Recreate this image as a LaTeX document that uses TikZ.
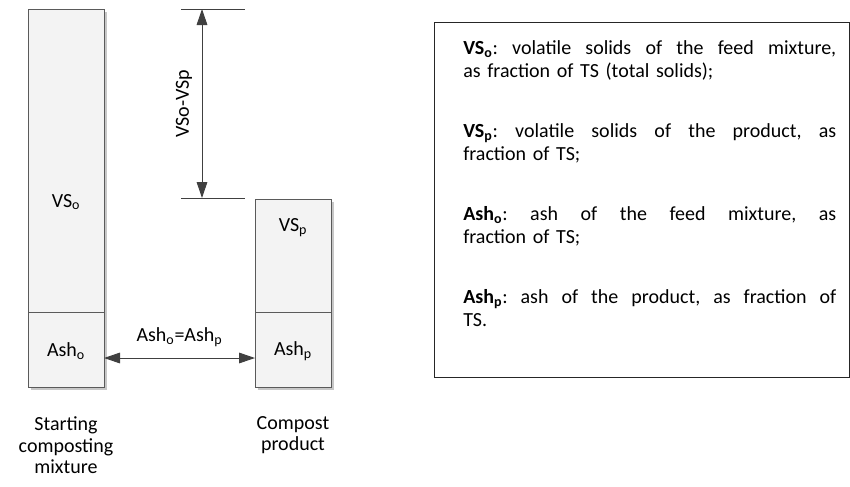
\documentclass[tikz,border=0pt]{standalone}
\usepackage{fontspec}
\setmainfont{Carlito}
\usetikzlibrary{arrows.meta,shadows}
\definecolor{linegray}{HTML}{404040}
\definecolor{edgegray}{HTML}{5A5A5A}
\definecolor{boxgray}{HTML}{F3F3F3}
\setlength{\parindent}{0pt}
\newcommand{\fullline}[1]{\makebox[279.75pt][s]{\spaceskip=0.226em plus 1em\relax #1}}

\begin{document}
\begin{tikzpicture}[x=0.75pt,y=-0.75pt,font=\fontsize{15}{16.1}\selectfont]
        \useasboundingbox (0,0) rectangle (850,486);

        % solids columns
        \begin{scope}[every node/.style = {rectangle, draw=edgegray, fill=boxgray,
                minimum width=57pt, inner sep=0pt, outer sep=0pt,
                drop shadow={shadow xshift=2.2pt, shadow yshift=-2.2pt, fill=black!22, opacity=1}}]
            \node[minimum height=227.25pt] (VSo)  at (66, 160.5) {};
            \node[minimum height=56.25pt]  (Asho) at (66, 349.5) {};
            \node[minimum height=84.75pt]  (VSp)  at (293, 255.5) {};
            \node[minimum height=56.25pt]  (Ashp) at (293, 349.5) {};
        \end{scope}

        \begin{scope}[every node/.style = {inner sep=0pt, align=center}]
            \node (VSolbl)  at (66, 202)  {VS\textsubscript{o}};
            \node (Asholbl) at (66, 351)  {Ash\textsubscript{o}};
            \node (VSplbl)  at (293, 228) {VS\textsubscript{p}};
            \node (Ashplbl) at (293, 351) {Ash\textsubscript{p}};
            \node (start)   at (66, 445.5) {Starting\\composting\\mixture};
            \node (compost) at (293, 435)  {Compost\\product};
        \end{scope}

        % dimension lines
        \coordinate (TL) at (181, 9);
        \coordinate (TR) at (245, 9);
        \coordinate (BL) at (181, 198);
        \coordinate (BR) at (245, 198);
        \coordinate (TA) at (202, 9);
        \coordinate (BA) at (202, 198);
        \path (Asho.east) ++(0, 8.5) coordinate (AL);
        \path (Ashp.west) ++(0, 8.5) coordinate (AR);

        \begin{scope}[>={Triangle[length=12pt, width=8pt]},
                every path/.style={draw=linegray, line width=0.75pt},
                every node/.style={text=black}]
                \path (TL) edge (TR);
                \path (BL) edge (BR);
                \path (TA) edge[<->] node[rotate=90, anchor=south, inner sep=7pt] {VSo-VSp} (BA);
                \path (AL) edge[<->] node[above=5pt] {Ash\textsubscript{o}=Ash\textsubscript{p}} (AR);
        \end{scope}

        % legend
        \node[draw=black!85, line width=0.9pt, anchor=north west, minimum width=311.25pt,
              minimum height=266.25pt, inner sep=0pt] (legend) at (434, 22) {};
        \node[anchor=north west, inner sep=0pt, text width=279.75pt, align=left,
              font=\fontsize{15}{17.25}\selectfont\frenchspacing] (legendtxt) at (463, 40)
            {\fullline{\textbf{VS\textsubscript{o}}: volatile solids of the feed mixture,}\\
             as fraction of TS (total solids);\\[27.75pt]
             \fullline{\textbf{VS\textsubscript{p}}: volatile solids of the product, as}\\
             fraction of TS;\\[27.75pt]
             \fullline{\textbf{Ash\textsubscript{o}}: ash of the feed mixture, as}\\
             fraction of TS;\\[27.75pt]
             \fullline{\textbf{Ash\textsubscript{p}}: ash of the product, as fraction of}\\
             TS.};
    \end{tikzpicture}
\end{document}
